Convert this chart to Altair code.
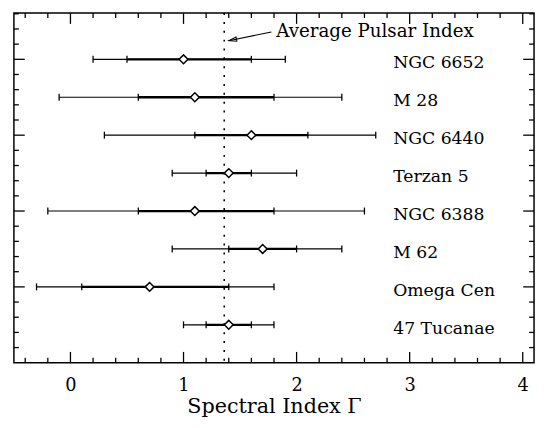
import altair as alt
import pandas as pd

# ---- data ----
clusters = ["NGC 6652", "M 28", "NGC 6440", "Terzan 5", "NGC 6388", "M 62", "Omega Cen", "47 Tucanae"]
rows = [8, 7, 6, 5, 4, 3, 2, 1]
gamma = [1.0, 1.1, 1.6, 1.4, 1.1, 1.7, 0.7, 1.4]
inner_lo = [0.5, 0.6, 1.1, 1.2, 0.6, 1.4, 0.1, 1.2]
inner_hi = [1.6, 1.8, 2.1, 1.6, 1.8, 2.0, 1.4, 1.6]
outer_lo = [0.2, -0.1, 0.3, 0.9, -0.2, 0.9, -0.3, 1.0]
outer_hi = [1.9, 2.4, 2.7, 2.0, 2.6, 2.4, 1.8, 1.8]

avg_index = [1.36]
annot_text = ["Average Pulsar Index"]
annot_x = [1.82]
annot_y = [8.58]
arrow_from_x = [1.777]
arrow_from_y = [8.72]
arrow_to_x = [1.40]
arrow_to_y = [8.49]

x_major = [0, 1, 2, 3, 4]
x_minor = [-0.4, -0.2, 0.2, 0.4, 0.6, 0.8, 1.2, 1.4, 1.6, 1.8, 2.2, 2.4, 2.6, 2.8,
           3.2, 3.4, 3.6, 3.8]
y_major = [2, 4, 6, 8]
y_minor = [0.4, 0.8, 1.2, 1.6, 2.4, 2.8, 3.2, 3.6, 4.4, 4.8, 5.2, 5.6,
           6.4, 6.8, 7.2, 7.6, 8.4, 8.8, 9.2]

X_DOMAIN = [-0.5, 4.1]
Y_DOMAIN = [0, 9.22]
W, H = 528, 355
FONT = "DejaVu Serif"

df = pd.DataFrame({"name": clusters, "row": rows, "gamma": gamma,
                   "ilo": inner_lo, "ihi": inner_hi, "olo": outer_lo, "ohi": outer_hi})
caps = pd.DataFrame({
    "row": rows * 4,
    "v": outer_lo + outer_hi + inner_lo + inner_hi,
})

xs = alt.Scale(domain=X_DOMAIN, nice=False, zero=False)
ys = alt.Scale(domain=Y_DOMAIN, nice=False, zero=False)

x_axis = alt.Axis(values=x_major, ticks=False, domain=False, grid=False,
                  labelFont=FONT, labelFontSize=18, labelColor="black",
                  labelPadding=14, title="Spectral Index Γ", titleFont=FONT,
                  titleFontSize=21, titleFontWeight="normal", titleColor="black",
                  titlePadding=2)


def X(field):
    return alt.X(field, scale=xs, axis=x_axis, title="Spectral Index Γ")


def Y(field):
    return alt.Y(field, scale=ys, axis=None)


base = alt.Chart(df)

outer = base.mark_rule(color="black", strokeWidth=1.2).encode(
    x=X("olo:Q"), x2="ohi:Q", y=Y("row:Q"))
inner = base.mark_rule(color="black", strokeWidth=2.3).encode(
    x=X("ilo:Q"), x2="ihi:Q", y=Y("row:Q"))
capmarks = alt.Chart(caps).mark_tick(orient="vertical", color="black", size=7,
                                     thickness=1.3, opacity=1).encode(
    x=X("v:Q"), y=Y("row:Q"))
points = base.mark_point(shape="diamond", size=80, filled=True, fill="white",
                         stroke="black", strokeWidth=1.5, opacity=1).encode(
    x=X("gamma:Q"), y=Y("row:Q"))
labels = base.mark_text(align="left", baseline="alphabetic", dy=9, font=FONT,
                        fontSize=17.5, color="black").encode(
    x=alt.value(385), y=Y("row:Q"), text="name:N")

avg_df = pd.DataFrame({"avg": avg_index})
dotted = alt.Chart(avg_df).mark_rule(color="black", strokeWidth=1.6,
                                     strokeDash=[2, 7]).encode(
    x=X("avg:Q"), y=alt.value(0), y2=alt.value(H))

ann_df = pd.DataFrame({"x": annot_x, "y": annot_y, "t": annot_text})
ann_text = alt.Chart(ann_df).mark_text(align="left", baseline="alphabetic", font=FONT,
                                       fontSize=18.5, color="black").encode(
    x=X("x:Q"), y=Y("y:Q"), text="t:N")
arr_df = pd.DataFrame({"x": arrow_from_x, "y": arrow_from_y,
                       "x2": arrow_to_x, "y2": arrow_to_y})
arrow_line = alt.Chart(arr_df).mark_rule(color="black", strokeWidth=1.1).encode(
    x=X("x:Q"), y=Y("y:Q"), x2="x2:Q", y2="y2:Q")
arrow_head = alt.Chart(arr_df).mark_point(shape="M0,0L2,-0.55L2,0.55Z", size=64,
                                          angle=348.6, filled=False, stroke="black",
                                          strokeWidth=1, opacity=1).encode(
    x=X("x2:Q"), y=Y("y2:Q"))

# ---- inward frame ticks ----
xmaj = pd.DataFrame({"v": x_major})
xmin = pd.DataFrame({"v": x_minor})
ymaj = pd.DataFrame({"v": y_major})
ymin = pd.DataFrame({"v": y_minor})
MAJ, MIN = 11, 5


def xticks(d, length):
    bottom = alt.Chart(d).mark_rule(color="black", strokeWidth=1.3).encode(
        x=X("v:Q"), y=alt.value(H), y2=alt.value(H - length))
    top = alt.Chart(d).mark_rule(color="black", strokeWidth=1.3).encode(
        x=X("v:Q"), y=alt.value(0), y2=alt.value(length))
    return [bottom, top]


def yticks(d, length):
    left = alt.Chart(d).mark_rule(color="black", strokeWidth=1.3).encode(
        y=Y("v:Q"), x=alt.value(0), x2=alt.value(length))
    right = alt.Chart(d).mark_rule(color="black", strokeWidth=1.3).encode(
        y=Y("v:Q"), x=alt.value(W), x2=alt.value(W - length))
    return [left, right]


tick_layers = xticks(xmaj, MAJ) + xticks(xmin, MIN) + yticks(ymaj, MAJ) + yticks(ymin, MIN)

chart = alt.layer(
    outer, inner, capmarks, dotted, points, labels, ann_text, arrow_line, arrow_head,
    *tick_layers
).properties(
    width=W, height=H,
    padding={"left": 5, "top": 1, "right": 2, "bottom": 0},
    background="white",
).configure_view(
    stroke="black", strokeWidth=1.5
)

chart.save("out.html", embed_options={"renderer": "svg", "actions": False})
